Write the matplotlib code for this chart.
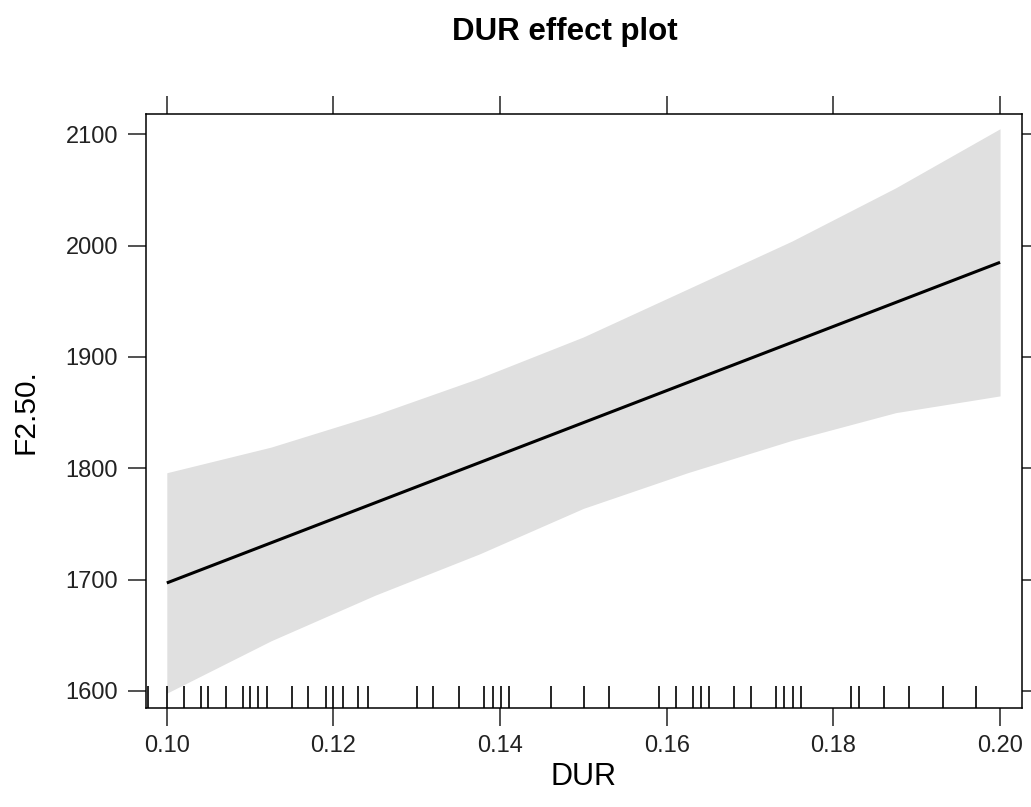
import matplotlib
matplotlib.use("Agg")
import matplotlib.pyplot as plt

plt.rcParams['font.family'] = ['Liberation Sans', 'DejaVu Sans']

# fitted effect of DUR with its confidence band
dur = [0.100, 0.1125, 0.125, 0.1375, 0.150, 0.1625, 0.175, 0.1875, 0.200]
fit = [1697, 1733, 1769, 1805, 1841, 1877, 1913, 1949, 1985]
upper = [1796, 1819, 1848, 1881, 1918, 1961, 2004, 2052, 2105]
lower = [1598, 1645, 1686, 1723, 1764, 1796, 1825, 1850, 1865]

# observed DUR values (rug)
rug = [0.0978, 0.100, 0.1021, 0.1041, 0.1050, 0.1071, 0.1091, 0.1100, 0.1110,
       0.1120, 0.1150, 0.1170, 0.1191, 0.1200, 0.1211, 0.1230, 0.1241, 0.1300,
       0.1320, 0.1351, 0.1381, 0.1391, 0.1401, 0.1411, 0.1461, 0.1501, 0.1531,
       0.1591, 0.1611, 0.1631, 0.1641, 0.1651, 0.1681, 0.1701, 0.1731, 0.1741,
       0.1751, 0.1761, 0.1821, 0.1831, 0.1861, 0.1891, 0.1931, 0.1971]

xticks = [0.10, 0.12, 0.14, 0.16, 0.18, 0.20]
xtick_labels = ['0.10', '0.12', '0.14', '0.16', '0.18', '0.20']
yticks = [1600, 1700, 1800, 1900, 2000, 2100]

fig = plt.figure(figsize=(10.31, 8.07), dpi=100)
ax = fig.add_axes([0.1416, 0.1223, 0.8494, 0.7364])

ax.fill_between(dur, lower, upper, color='#e0e0e0', linewidth=0)
ax.plot(dur, fit, color='black', linewidth=2.2, solid_capstyle='butt')
ax.vlines(rug, 0, 0.037, transform=ax.get_xaxis_transform(),
          color='black', linewidth=1.2)

ax.set_xlim(0.0975, 0.2026)
ax.set_ylim(1584.4, 2118.2)

ax.set_xticks(xticks)
ax.set_xticklabels(xtick_labels)
ax.set_yticks(yticks)
ax.tick_params(axis='both', direction='out', length=13, width=1.1,
               labelsize=17, top=True, right=True, colors='#222222')
ax.tick_params(axis='x', pad=6)
ax.tick_params(axis='y', pad=7)
for spine in ax.spines.values():
    spine.set_linewidth(1.1)

ax.set_xlabel('DUR', fontsize=22, labelpad=4)
ax.set_ylabel('F2.50.', fontsize=21.5, labelpad=19)
fig.text(0.548, 1 - 32 / 807, 'DUR effect plot', fontsize=22.5,
         fontweight='bold', ha='center', va='center')

fig.savefig('out.png', dpi=100)
